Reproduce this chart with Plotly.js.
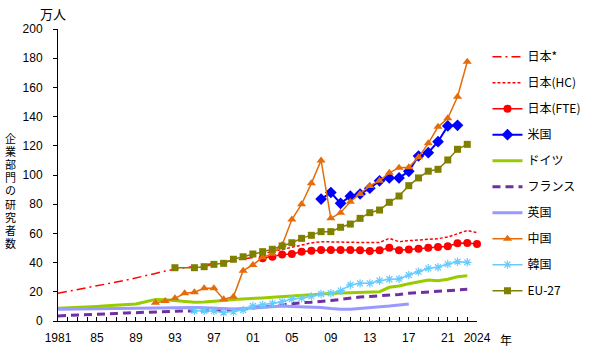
<!DOCTYPE html>
<html>
<head>
<meta charset="utf-8">
<script src="https://cdn.plot.ly/plotly-3.0.1.min.js"></script>
<style>html,body{margin:0;padding:0;background:#fff;}#chart{width:600px;height:355px;}</style>
</head>
<body>
<div id="chart"></div>
<script>
function yrs(a, b) { var r = []; for (var y = a; y <= b; y++) r.push(y); return r; }

// ---- data (万人) ----
var japanOldYears = yrs(1981, 2001);
var japanOld = [19.0, 20.2, 21.5, 22.8, 24.1, 25.4, 26.7, 28.0, 29.4, 31.0, 32.6, 34.2, 35.6, 36.5, 37.4, 38.4, 39.4, 40.4, 41.4, 42.4, 43.5];

var japanHCYears = yrs(2002, 2024);
var japanHC = [46.0, 47.5, 49.0, 51.0, 52.5, 53.5, 54.3, 54.3, 54.2, 54.3, 53.8, 53.7, 53.8, 56.6, 54.3, 55.0, 55.4, 55.8, 56.4, 57.5, 59.5, 62.0, 60.5];

var japanFTEYears = yrs(2002, 2024);
var japanFTE = [43.0, 44.0, 45.5, 45.9, 47.5, 48.2, 48.6, 48.6, 48.6, 48.6, 48.4, 48.0, 48.4, 50.2, 48.5, 49.0, 49.5, 50.2, 50.7, 51.2, 53.2, 53.4, 52.8];

var usYears = yrs(2008, 2022);
var us = [83.5, 88.0, 80.6, 85.5, 87.0, 91.0, 96.0, 98.0, 98.0, 102.5, 113.0, 115.3, 122.8, 133.6, 134.0];

var germanyYears = yrs(1981, 2023);
var germany = [8.7, 8.9, 9.2, 9.6, 10.0, 10.4, 10.8, 11.2, 11.6, 13.2, 14.8, 14.5, 13.8, 13.2, 12.8, 13.0, 13.4, 14.0, 14.8, 15.3, 15.6, 15.8, 16.2, 16.5, 16.8, 17.3, 17.9, 18.5, 19.0, 19.2, 19.4, 19.7, 19.9, 20.1, 23.1, 24.0, 25.5, 26.5, 28.0, 27.6, 28.6, 30.3, 31.0];

var franceYears = yrs(1981, 2023);
var france = [3.5, 3.7, 4.0, 4.3, 4.6, 4.9, 5.2, 5.5, 5.8, 6.1, 6.4, 6.7, 7.0, 6.9, 6.8, 6.8, 6.9, 7.2, 7.6, 8.2, 8.8, 9.5, 10.3, 11.2, 12.0, 12.5, 12.9, 13.2, 14.0, 14.8, 15.7, 16.4, 16.8, 17.2, 17.6, 18.2, 19.0, 19.5, 20.1, 20.5, 21.2, 21.5, 21.7];

var ukYears = yrs(1981, 2017);
var uk = [8.0, 8.1, 8.2, 8.3, 8.4, 8.5, 8.6, 8.7, 8.8, 8.9, 8.9, 8.9, 8.9, 9.0, 9.2, 9.0, 8.6, 8.3, 8.2, 8.5, 9.0, 9.6, 10.0, 10.2, 10.0, 9.8, 9.6, 9.2, 8.5, 8.0, 8.1, 8.5, 9.0, 9.6, 10.2, 10.9, 11.6];

var chinaYears = yrs(1991, 2023);
var china = [12.5, 13.7, 15.5, 19.0, 19.7, 22.4, 22.4, 14.9, 16.6, 34.5, 38.4, 43.6, 46.0, 52.0, 69.5, 80.0, 94.3, 110.0, 70.3, 74.2, 81.7, 87.0, 92.5, 96.1, 101.5, 105.0, 105.3, 112.1, 121.7, 133.0, 138.8, 153.6, 177.6];

var koreaYears = yrs(1995, 2023);
var korea = [7.0, 7.0, 6.8, 5.8, 6.4, 7.5, 10.3, 11.0, 12.1, 13.2, 15.0, 15.6, 16.8, 18.5, 19.0, 20.8, 24.7, 25.8, 25.8, 27.6, 28.6, 28.8, 31.5, 33.8, 36.1, 36.8, 39.0, 40.6, 40.2];

var eu27Years = [1993].concat(yrs(1995, 2023));
var eu27 = [36.5, 36.5, 37.2, 38.8, 39.5, 42.3, 44.0, 45.9, 47.5, 49.1, 51.4, 53.6, 56.6, 58.7, 61.2, 61.2, 64.2, 66.4, 70.3, 74.2, 76.0, 81.3, 85.6, 92.7, 98.0, 102.6, 103.9, 110.3, 117.6, 121.0];

var tickYears = yrs(1981, 2024);
var tickLabelMap = {1981: '1981', 1985: '85', 1989: '89', 1993: '93', 1997: '97', 2001: '01', 2005: '05', 2009: '09', 2013: '13', 2017: '17', 2021: '21', 2024: '2024'};
var tickTexts = tickYears.map(function (y) { return tickLabelMap[y] || ''; });

var yTitleChars = '企業部門の研究者数'.split('');

// ---- traces ----
var baseFont = 'Liberation Sans, Arial, Noto Sans CJK JP, sans-serif';
function tr(name, x, y, opts, i) {
  var t = {type: 'scatter', name: name, x: x, y: y, cliponaxis: false, legendgroup: 'g' + i};
  for (var k in opts) t[k] = opts[k];
  return t;
}
var traces = [
  tr('日本*', japanOldYears, japanOld, {mode: 'lines', line: {color: '#ff0000', width: 1.5, dash: '9px,4px,2px,4px'}}, 0),
  tr('日本(HC)', japanHCYears, japanHC, {mode: 'lines', line: {color: '#ff0000', width: 1.5, dash: '3px,2px'}}, 1),
  tr('日本(FTE)', japanFTEYears, japanFTE, {mode: 'lines+markers', line: {color: '#ff0000', width: 1.5}, marker: {symbol: 'circle', size: 8, color: '#ff0000'}}, 2),
  tr('米国', usYears, us, {mode: 'lines+markers', line: {color: '#0000ff', width: 2}, marker: {symbol: 'diamond', size: 9, color: '#0000ff'}}, 3),
  tr('ドイツ', germanyYears, germany, {mode: 'lines', line: {color: '#99cc00', width: 3}}, 4),
  tr('フランス', franceYears, france, {mode: 'lines', line: {color: '#7030a0', width: 3, dash: '8px,5px'}}, 5),
  tr('英国', ukYears, uk, {mode: 'lines', line: {color: '#9999ff', width: 3}}, 6),
  tr('中国', chinaYears, china, {mode: 'lines+markers', line: {color: '#e46c0a', width: 1.5}, marker: {symbol: 'triangle-up', size: 8, color: '#e46c0a'}}, 7),
  tr('韓国', koreaYears, korea, {mode: 'lines+markers', line: {color: '#66ccff', width: 1.5}, marker: {symbol: 'asterisk-open', size: 7, color: '#66ccff', line: {color: '#66ccff', width: 1.2}}}, 8),
  tr('EU-27', eu27Years, eu27, {mode: 'lines+markers', line: {color: '#808000', width: 1.5}, marker: {symbol: 'square', size: 7, color: '#808000'}}, 9)
];

// ---- layout ----
var plotTop = 29, plotBottom = 321, plotH = plotBottom - plotTop;
var annotations = [
  {text: '万人', xref: 'paper', yref: 'paper', x: (53 - 58) / 419, y: (plotBottom - 13) / plotH, showarrow: false, xanchor: 'center', yanchor: 'middle', font: {size: 13, color: '#000', family: 'Noto Sans CJK JP'}},
  {text: '年', xref: 'paper', yref: 'paper', x: (506 - 58) / 419, y: (plotBottom - 339) / plotH, showarrow: false, xanchor: 'center', yanchor: 'middle', font: {size: 12, color: '#000', family: 'Noto Sans CJK JP'}}
];
yTitleChars.forEach(function (c, i) {
  var yp = 138 + i * 13.1;
  annotations.push({text: c, xref: 'paper', yref: 'paper', x: (10 - 58) / 419, y: (plotBottom - yp) / plotH, showarrow: false, xanchor: 'center', yanchor: 'middle', borderpad: 0, font: {size: 11, color: '#000', family: 'Noto Sans CJK JP'}});
});

var layout = {
  width: 600, height: 355,
  margin: {l: 58, r: 123, t: plotTop, b: 355 - plotBottom, pad: 0},
  paper_bgcolor: '#fff', plot_bgcolor: '#fff',
  font: {family: baseFont, size: 12, color: '#000'},
  showlegend: true,
  legend: {x: 1.025, xanchor: 'left', y: 0.955, yanchor: 'top', tracegroupgap: 7, font: {size: 12, family: 'Noto Sans CJK JP, Liberation Sans'}, bgcolor: 'rgba(0,0,0,0)'},
  xaxis: {range: [1981, 2024], tickmode: 'array', tickvals: tickYears, ticktext: tickTexts, ticks: 'inside', ticklen: 4, tickcolor: '#000',
    showline: true, linecolor: '#000', linewidth: 1, showgrid: false, zeroline: false, ticklabelstandoff: 6, tickfont: {size: 12}},
  yaxis: {range: [0, 200], tickmode: 'linear', tick0: 0, dtick: 20, ticks: 'outside', ticklen: 4, tickcolor: '#000',
    showline: true, linecolor: '#000', linewidth: 1, showgrid: false, zeroline: false, ticklabelstandoff: 8, tickfont: {size: 12}},
  annotations: annotations
};

Plotly.newPlot('chart', traces, layout, {staticPlot: true, displayModeBar: false});
</script>
</body>
</html>
